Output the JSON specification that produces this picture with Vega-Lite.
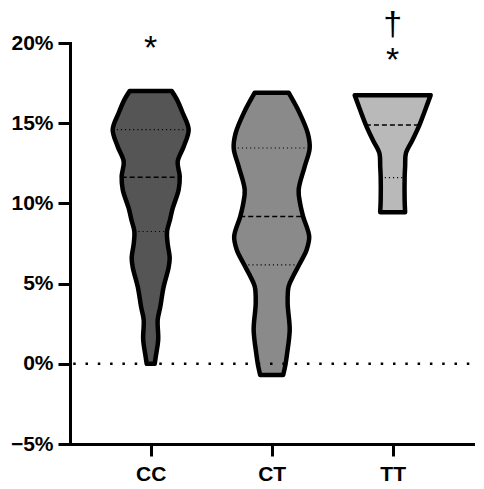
{
  "$schema": "https://vega.github.io/schema/vega-lite/v6.json",
  "description": "Violin plots of CC, CT and TT genotypes",
  "width": 403,
  "height": 401,
  "autosize": {"type": "none"},
  "padding": {"left": 70, "top": 43, "right": 11, "bottom": 45},
  "config": {
    "view": {"stroke": null},
    "font": "Liberation Sans",
    "axis": {
      "grid": false,
      "domainColor": "black",
      "domainWidth": 3,
      "domainCap": "square",
      "tickColor": "black",
      "tickWidth": 3,
      "tickSize": 12,
      "labelColor": "black",
      "labelFont": "Liberation Sans",
      "labelFontSize": 21,
      "labelFontWeight": "bold"
    },
    "axisX": {"labelPadding": 7},
    "axisY": {"labelPadding": 5}
  },
  "datasets": {
    "violin": [
      {"g": "CC", "v": 0.0, "w": 0.033},
      {"g": "CC", "v": 0.45, "w": 0.042},
      {"g": "CC", "v": 1.5, "w": 0.062},
      {"g": "CC", "v": 2.75, "w": 0.058},
      {"g": "CC", "v": 3.5, "w": 0.078},
      {"g": "CC", "v": 4.8, "w": 0.107},
      {"g": "CC", "v": 6.0, "w": 0.148},
      {"g": "CC", "v": 6.6, "w": 0.157},
      {"g": "CC", "v": 7.5, "w": 0.14},
      {"g": "CC", "v": 8.25, "w": 0.135},
      {"g": "CC", "v": 9.0, "w": 0.16},
      {"g": "CC", "v": 9.7, "w": 0.182},
      {"g": "CC", "v": 10.85, "w": 0.231},
      {"g": "CC", "v": 11.7, "w": 0.24},
      {"g": "CC", "v": 12.6, "w": 0.223},
      {"g": "CC", "v": 13.55, "w": 0.273},
      {"g": "CC", "v": 14.6, "w": 0.314},
      {"g": "CC", "v": 15.65, "w": 0.264},
      {"g": "CC", "v": 16.5, "w": 0.215},
      {"g": "CC", "v": 17.0, "w": 0.174},
      {"g": "CT", "v": -0.7, "w": 0.095},
      {"g": "CT", "v": 0.0, "w": 0.115},
      {"g": "CT", "v": 0.67, "w": 0.128},
      {"g": "CT", "v": 2.12, "w": 0.149},
      {"g": "CT", "v": 3.78, "w": 0.132},
      {"g": "CT", "v": 4.82, "w": 0.14},
      {"g": "CT", "v": 5.5, "w": 0.18},
      {"g": "CT", "v": 6.17, "w": 0.227},
      {"g": "CT", "v": 7.11, "w": 0.289},
      {"g": "CT", "v": 7.94, "w": 0.31},
      {"g": "CT", "v": 9.18, "w": 0.26},
      {"g": "CT", "v": 10.0, "w": 0.235},
      {"g": "CT", "v": 10.85, "w": 0.223},
      {"g": "CT", "v": 12.3, "w": 0.273},
      {"g": "CT", "v": 13.45, "w": 0.314},
      {"g": "CT", "v": 14.38, "w": 0.298},
      {"g": "CT", "v": 15.63, "w": 0.231},
      {"g": "CT", "v": 16.9, "w": 0.14},
      {"g": "TT", "v": 9.45, "w": 0.103},
      {"g": "TT", "v": 10.22, "w": 0.099},
      {"g": "TT", "v": 11.61, "w": 0.099},
      {"g": "TT", "v": 12.3, "w": 0.103},
      {"g": "TT", "v": 13.14, "w": 0.11},
      {"g": "TT", "v": 13.97, "w": 0.165},
      {"g": "TT", "v": 14.88, "w": 0.221},
      {"g": "TT", "v": 16.3, "w": 0.292},
      {"g": "TT", "v": 16.75, "w": 0.314}
    ],
    "stats": [
      {"g": "CC", "stat": "quartile", "v": 14.6, "w": 0.314},
      {"g": "CC", "stat": "median", "v": 11.63, "w": 0.24},
      {"g": "CC", "stat": "quartile", "v": 8.25, "w": 0.135},
      {"g": "CT", "stat": "quartile", "v": 13.45, "w": 0.314},
      {"g": "CT", "stat": "median", "v": 9.18, "w": 0.26},
      {"g": "CT", "stat": "quartile", "v": 6.17, "w": 0.227},
      {"g": "TT", "stat": "median", "v": 14.88, "w": 0.221},
      {"g": "TT", "stat": "quartile", "v": 11.61, "w": 0.099}
    ],
    "notes": [
      {"g": "CC", "v": 19.62, "t": "*"},
      {"g": "TT", "v": 18.87, "t": "*"},
      {"g": "TT", "v": 21.12, "t": "†"}
    ]
  },
  "layer": [
    {
      "data": {"name": "violin"},
      "transform": [
        {"calculate": "indexof(['CC','CT','TT'], datum.g)", "as": "pos"},
        {"calculate": "datum.pos - datum.w", "as": "lo"},
        {"calculate": "datum.pos + datum.w", "as": "hi"}
      ],
      "mark": {"type": "area", "orient": "horizontal", "interpolate": "catmull-rom", "strokeWidth": 0},
      "encoding": {
        "y": {
          "field": "v", "type": "quantitative", "title": null,
          "scale": {"domain": [-5, 20], "nice": false, "zero": false},
          "axis": {"values": [-5, 0, 5, 10, 15, 20], "labelExpr": "format(datum.value, 'd') + '%'"}
        },
        "x": {
          "field": "lo", "type": "quantitative", "title": null,
          "scale": {"domain": [-0.667, 2.664], "nice": false, "zero": false},
          "axis": {"values": [0, 1, 2], "labelExpr": "['CC','CT','TT'][datum.value]"}
        },
        "x2": {"field": "hi"},
        "color": {
          "field": "g", "type": "nominal", "legend": null,
          "scale": {"domain": ["CC", "CT", "TT"], "range": ["#555555", "#8a8a8a", "#b9b9b9"]}
        }
      }
    },
    {
      "data": {"name": "stats"},
      "transform": [
        {"filter": "datum.stat === 'median'"},
        {"calculate": "indexof(['CC','CT','TT'], datum.g)", "as": "pos"},
        {"calculate": "datum.pos - datum.w", "as": "lo"},
        {"calculate": "datum.pos + datum.w", "as": "hi"}
      ],
      "mark": {"type": "rule", "color": "black", "strokeWidth": 1.5, "strokeDash": [5, 3]},
      "encoding": {
        "y": {"field": "v", "type": "quantitative", "title": null},
        "x": {"field": "lo", "type": "quantitative", "title": null},
        "x2": {"field": "hi"}
      }
    },
    {
      "data": {"name": "stats"},
      "transform": [
        {"filter": "datum.stat === 'quartile'"},
        {"calculate": "indexof(['CC','CT','TT'], datum.g)", "as": "pos"},
        {"calculate": "datum.pos - datum.w", "as": "lo"},
        {"calculate": "datum.pos + datum.w", "as": "hi"}
      ],
      "mark": {"type": "rule", "color": "black", "strokeWidth": 1.1, "strokeDash": [1.1, 3]},
      "encoding": {
        "y": {"field": "v", "type": "quantitative", "title": null},
        "x": {"field": "lo", "type": "quantitative", "title": null},
        "x2": {"field": "hi"}
      }
    },
    {
      "data": {"name": "violin"},
      "transform": [
        {"calculate": "indexof(['CC','CT','TT'], datum.g)", "as": "pos"},
        {"calculate": "datum.pos - datum.w", "as": "lo"},
        {"calculate": "datum.pos + datum.w", "as": "hi"}
      ],
      "mark": {
        "type": "area", "orient": "horizontal", "interpolate": "catmull-rom",
        "fillOpacity": 0, "stroke": "black", "strokeWidth": 4.5, "strokeJoin": "round"
      },
      "encoding": {
        "y": {"field": "v", "type": "quantitative", "title": null},
        "x": {"field": "lo", "type": "quantitative", "title": null},
        "x2": {"field": "hi"},
        "detail": {"field": "g"}
      }
    },
    {
      "data": {"values": [{"v": 0}]},
      "mark": {
        "type": "rule", "color": "black", "strokeWidth": 2.5,
        "strokeDash": [2.5, 9.8], "strokeDashOffset": 8.6
      },
      "encoding": {
        "y": {"field": "v", "type": "quantitative", "title": null}
      }
    },
    {
      "data": {"name": "notes"},
      "transform": [
        {"calculate": "indexof(['CC','CT','TT'], datum.g)", "as": "pos"}
      ],
      "mark": {"type": "text", "fontSize": 34, "color": "black", "baseline": "middle", "align": "center", "font": "Liberation Sans"},
      "encoding": {
        "y": {"field": "v", "type": "quantitative", "title": null},
        "x": {"field": "pos", "type": "quantitative", "title": null},
        "text": {"field": "t"}
      }
    }
  ]
}
